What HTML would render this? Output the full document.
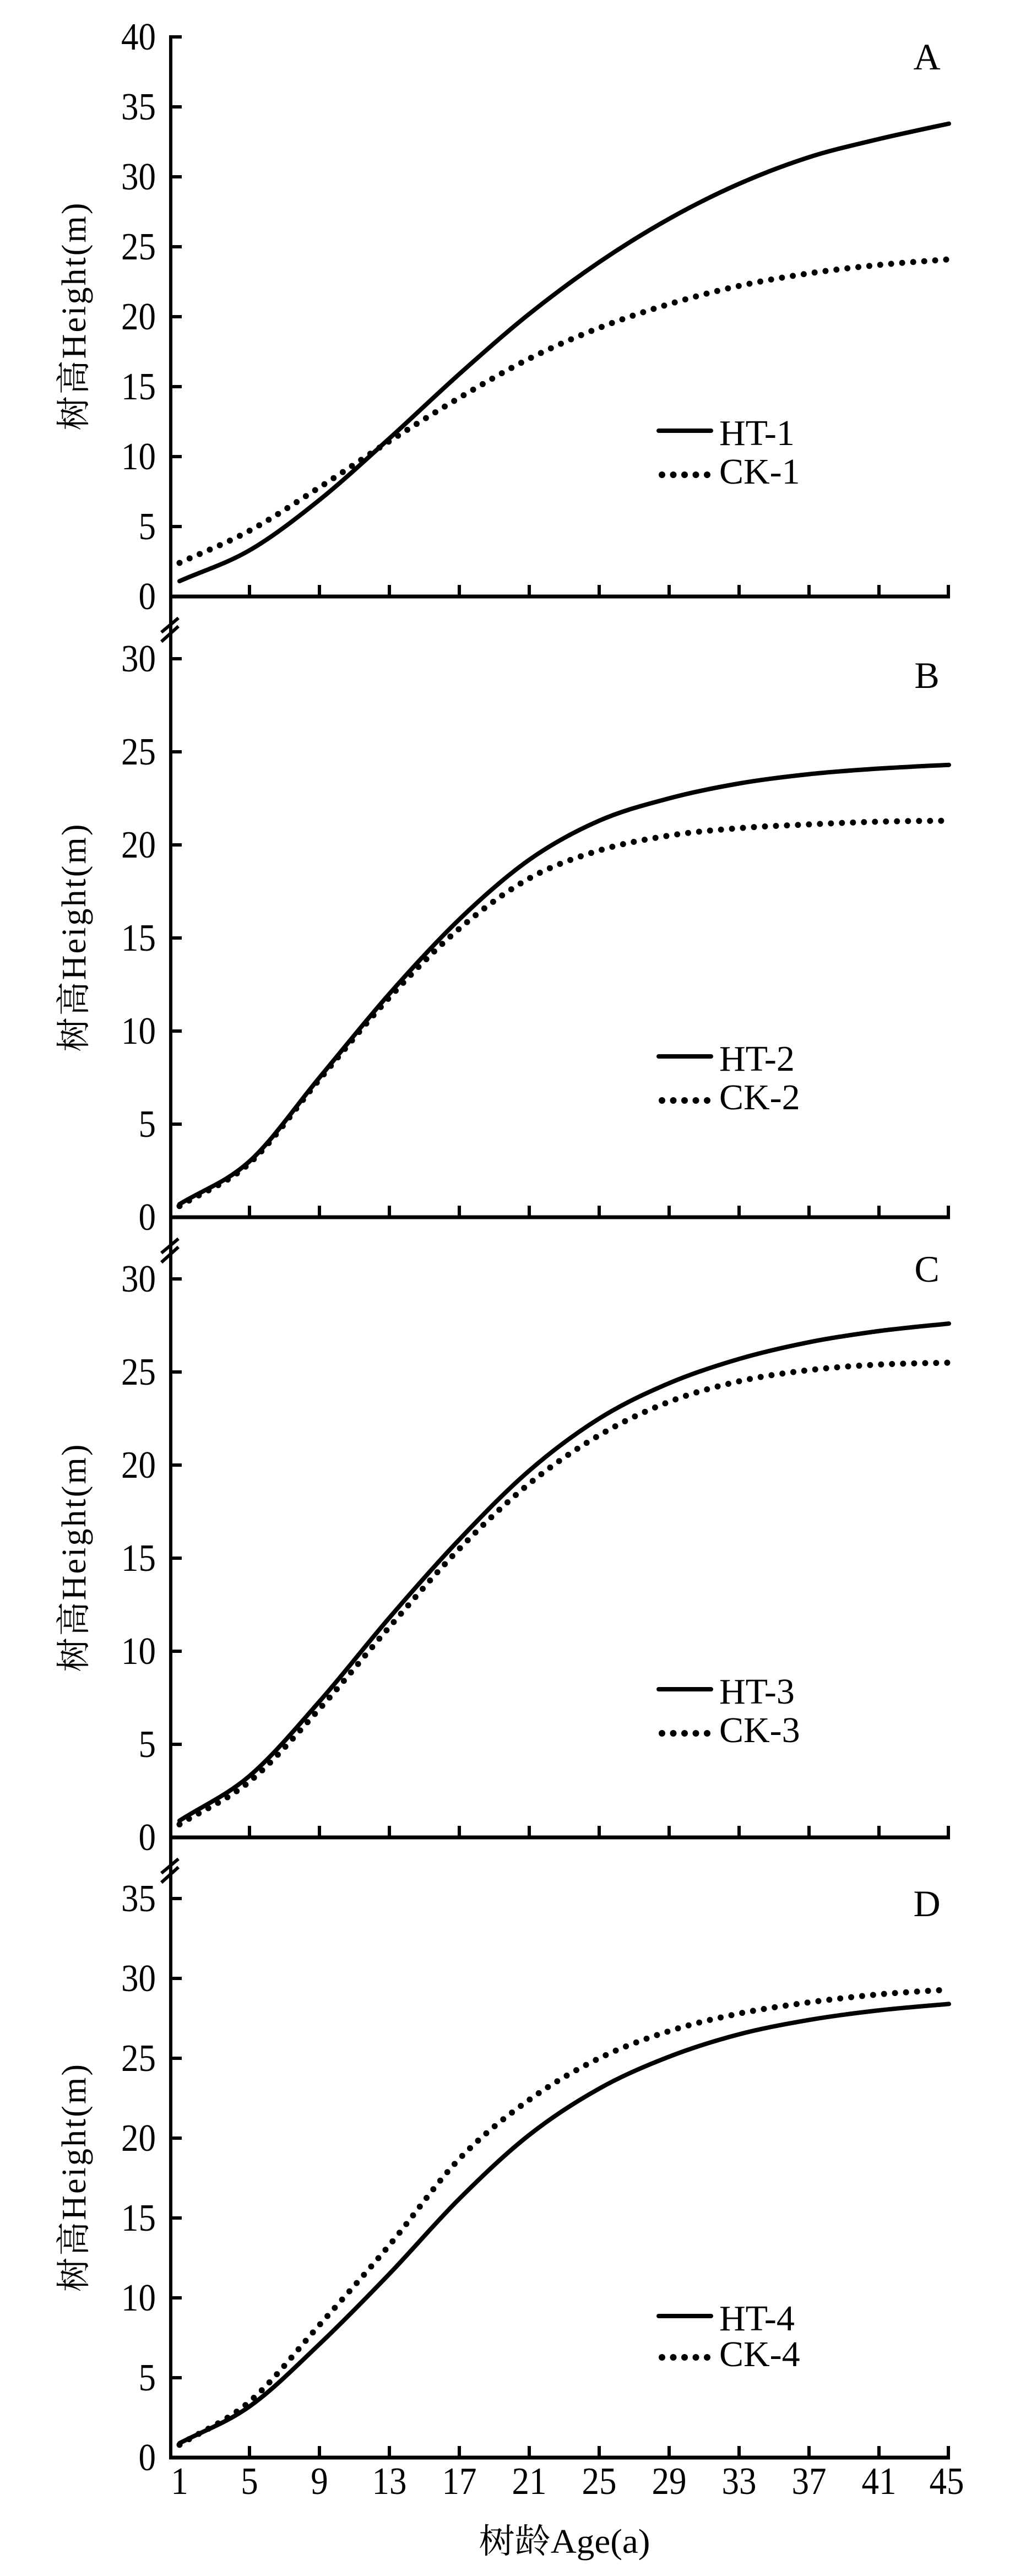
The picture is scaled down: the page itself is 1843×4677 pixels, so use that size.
<!DOCTYPE html>
<html><head><meta charset="utf-8">
<style>
html,body{margin:0;padding:0;background:#fff;}
svg{display:block;}
text{font-family:"Liberation Serif","Noto Serif CJK SC","Noto Sans CJK SC",serif;fill:#000;}
</style></head>
<body>
<svg id="s" width="1843" height="4677" viewBox="0 0 1843 4677" xmlns="http://www.w3.org/2000/svg"></svg>
<script>
var s=document.getElementById('s');var out='';
var AX=310;
function X(a){return 326+(a-1)*31.75;}
var ages=[1,5,9,13,17,21,25,29,33,37,41,45];
var panels=[
 {top:67,zero:1083,max:40,letter:'A',ly:126,leg:782,
  ht:[1.1,3.3,6.9,11.3,15.9,20.2,23.9,27,29.5,31.4,32.7,33.8],
  ck:[2.4,4.7,7.8,11.1,14.2,17,19.2,20.9,22.2,23.1,23.7,24.1],n:1},
 {top:1196,zero:2210,max:30,letter:'B',ly:1249,leg:1918,
  ht:[0.7,3,7.5,12,16,19.2,21.3,22.5,23.3,23.8,24.1,24.3],
  ck:[0.6,2.9,7.4,11.8,15.5,18.2,19.7,20.5,20.9,21.1,21.25,21.3],n:2},
 {top:2322,zero:3336,max:30,letter:'C',ly:2327,leg:3067,
  ht:[0.9,3.3,7.3,11.8,16,19.7,22.5,24.4,25.7,26.6,27.2,27.6],
  ck:[0.7,3,6.9,11.3,15.5,19,21.6,23.4,24.5,25.1,25.4,25.5],n:3},
 {top:3447,zero:4462,max:35,letter:'D',ly:3479,leg:4205,
  ht:[0.9,3.2,7.1,11.5,16.2,20.2,23.1,25.1,26.5,27.4,28,28.4],
  ck:[0.8,3.5,8.3,13.3,18.7,22.4,25,26.7,27.8,28.5,29,29.3],n:4}
];
function path(vals,p){
  var per=(p.zero-p.top)/p.max;
  var pts=vals.map(function(v,i){return [X(ages[i]), p.zero-v*per];});
  var d='M'+pts[0][0].toFixed(1)+' '+pts[0][1].toFixed(1);
  for(var i=0;i<pts.length-1;i++){
    var p0=pts[i-1]||[2*pts[0][0]-pts[1][0],2*pts[0][1]-pts[1][1]],p1=pts[i],p2=pts[i+1],p3=pts[i+2]||pts[i+1];
    var c1=[p1[0]+(p2[0]-p0[0])/6,p1[1]+(p2[1]-p0[1])/6];
    var c2=[p2[0]-(p3[0]-p1[0])/6,p2[1]-(p3[1]-p1[1])/6];
    d+=' C'+c1[0].toFixed(1)+' '+c1[1].toFixed(1)+' '+c2[0].toFixed(1)+' '+c2[1].toFixed(1)+' '+p2[0].toFixed(1)+' '+p2[1].toFixed(1);
  }
  return d;
}
function num(x,y,t,anchor){
  return '<text transform="translate('+x+','+y+') scale(0.9,1)" font-size="70" text-anchor="'+anchor+'">'+t+'</text>';
}
out+='<line x1="'+AX+'" y1="64" x2="'+AX+'" y2="4465" stroke="#000" stroke-width="6"/>';
panels.forEach(function(p,k){
  var per=(p.zero-p.top)/p.max;
  for(var v=0;v<=p.max;v+=5){
    var y=p.zero-v*per;
    if(v>0) out+='<line x1="'+AX+'" y1="'+y+'" x2="330" y2="'+y+'" stroke="#000" stroke-width="6"/>';
    out+=num(283,y+23,v,'end');
  }
  out+='<line x1="'+(AX-3)+'" y1="'+p.zero+'" x2="1725" y2="'+p.zero+'" stroke="#000" stroke-width="7"/>';
  for(var a=5;a<=45;a+=4){
    var x=X(a);if(a==45)x=1722;
    out+='<line x1="'+x+'" y1="'+(p.zero-21)+'" x2="'+x+'" y2="'+p.zero+'" stroke="#000" stroke-width="6"/>';
  }
  if(k<3){
    var by=p.zero+40;
    out+='<line x1="293" y1="'+(by+25)+'" x2="324" y2="'+(by-1)+'" stroke="#000" stroke-width="6"/>';
    out+='<line x1="293" y1="'+(by+42)+'" x2="324" y2="'+(by+14)+'" stroke="#000" stroke-width="6"/>';
  }
  var cy=(p.top+p.zero)/2;
  out+='<text transform="translate(155,'+cy+') rotate(-90)" font-size="62" text-anchor="middle" textLength="413" lengthAdjust="spacing">树高Height(m)</text>';
  out+='<text x="1683" y="'+p.ly+'" font-size="68" text-anchor="middle">'+p.letter+'</text>';
  out+='<path d="'+path(p.ck,p)+'" fill="none" stroke="#000" stroke-width="11" stroke-linecap="round" stroke-dasharray="0 20"/>';
  out+='<path d="'+path(p.ht,p)+'" fill="none" stroke="#000" stroke-width="8" stroke-linecap="round"/>';
  var ly=p.leg, cky=ly+(k==3?75:80);
  out+='<line x1="1196" y1="'+ly+'" x2="1291" y2="'+ly+'" stroke="#000" stroke-width="8" stroke-linecap="round"/>';
  out+='<text x="1306" y="'+(ly+26)+'" font-size="66">HT-'+p.n+'</text>';
  for(var i=0;i<5;i++) out+='<circle cx="'+(1202+i*20.5)+'" cy="'+cky+'" r="6"/>';
  out+='<text x="1306" y="'+(cky+16)+'" font-size="66">CK-'+p.n+'</text>';
});
for(var a=1;a<=45;a+=4){
  var x=X(a);if(a==45)x=1719;
  out+=num(x,4528,a,'middle');
}
out+='<text x="1025" y="4635" font-size="62" text-anchor="middle" textLength="311" lengthAdjust="spacingAndGlyphs">树龄Age(a)</text>';
s.innerHTML=out;
</script>
</body></html>
